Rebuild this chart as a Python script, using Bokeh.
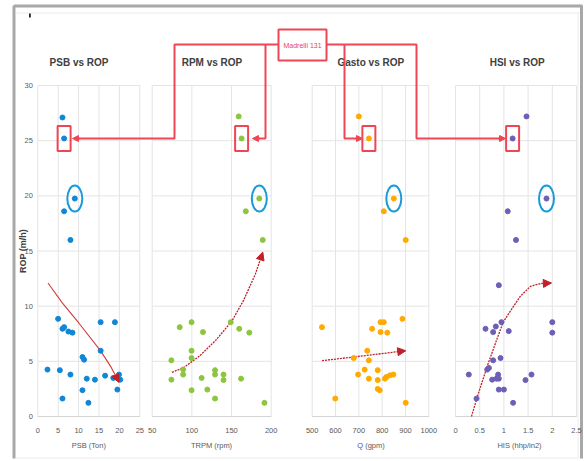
from bokeh.plotting import figure
from bokeh.models import Range1d, Arrow, NormalHead
from bokeh.core.properties import value
from bokeh.embed import file_html
from bokeh.resources import INLINE

# ---------------- data ----------------
rop_ticks = [0, 5, 10, 15, 20, 25, 30]

psb = [6.05, 6.45, 9.07, 6.45, 8.0, 4.98, 6.05, 6.45, 7.5, 8.5, 15.4, 18.9, 15.4, 10.95,
       11.35, 2.37, 5.4, 8.0, 12.0, 14.0, 16.5, 18.5, 19.9, 20.2, 10.95, 19.5, 6.05, 12.4]
psb_rop = [27.1, 25.2, 19.75, 18.6, 16.0, 8.85, 7.95, 8.1, 7.7, 7.6, 8.55, 8.55, 5.96, 5.39,
           5.15, 4.25, 4.2, 3.8, 3.43, 3.34, 3.7, 3.5, 3.8, 3.34, 2.38, 2.44, 1.63, 1.24]
psb_ticks = [0, 5, 10, 15, 20, 25]
psb_trend_x = [2.5, 6.0, 10.0, 15.4, 18.0, 19.9]
psb_trend_y = [12.1, 10.3, 8.5, 5.95, 4.45, 3.1]

rpm = [159, 162.7, 185, 168, 189.4, 74.2, 74.2, 84.7, 89, 89, 99.6, 99.6, 99.6, 99.6, 112.3,
       114, 119.5, 129.2, 129.2, 129.2, 139.9, 139.9, 149, 159.7, 162, 172.4, 191.5]
rpm_rop = [27.2, 25.2, 19.75, 18.6, 16.0, 5.09, 3.34, 8.1, 4.25, 3.8, 8.55, 5.96, 5.3, 2.38, 3.5,
           7.65, 2.44, 4.2, 3.8, 1.63, 3.8, 3.3, 8.55, 7.95, 3.43, 7.6, 1.24]
rpm_ticks = [50, 100, 150, 200]
rpm_trend_x = [75, 90, 110, 130, 150, 165, 180, 189.4]
rpm_trend_y = [4.0, 4.45, 5.5, 6.9, 8.6, 10.5, 12.9, 14.9]

q = [700, 743, 850, 807, 901, 542, 599, 678, 697, 725, 736, 743, 743, 757, 781, 781, 781, 789,
     793, 793, 807, 812, 818, 822, 833, 848, 887, 901]
q_rop = [27.2, 25.2, 19.75, 18.6, 16.0, 8.1, 1.63, 5.3, 3.8, 4.25, 5.96, 5.09, 3.43, 7.95, 4.2,
         3.3, 2.5, 2.38, 8.55, 7.65, 8.55, 3.43, 3.58, 7.6, 3.73, 3.8, 8.85, 1.24]
q_ticks = [500, 600, 700, 800, 900, 1000]
q_trend_x = [542, 720, 901]
q_trend_y = [5.06, 5.5, 5.96]

hsi = [1.467, 1.18, 1.88, 1.08, 1.25, 0.895, 0.275, 0.434, 0.62, 0.655, 0.69, 0.758, 0.778,
       0.778, 0.833, 0.847, 0.88, 0.895, 0.895, 0.93, 0.95, 1.0, 1.10, 1.19, 1.446, 1.57, 2.0, 2.0]
hsi_rop = [27.2, 25.2, 19.75, 18.6, 16.0, 11.9, 3.8, 1.63, 7.95, 4.25, 4.4, 3.34, 5.09, 7.65,
           8.16, 3.43, 3.8, 3.43, 2.44, 5.3, 8.55, 2.44, 7.74, 1.24, 3.3, 3.8, 8.55, 7.6]
hsi_ticks = [0, 0.5, 1, 1.5, 2, 2.5]
hsi_tick_labels = ["0", "0.5", "1", "1.5", "2", "2.5"]
hsi_trend_x = [0.33, 0.455, 0.655, 0.826, 0.985, 1.17, 1.34, 1.55, 1.76, 1.98]
hsi_trend_y = [0.0, 1.84, 4.55, 6.65, 8.55, 9.8, 10.9, 11.8, 12.05, 12.1]

titles = ["PSB vs ROP", "RPM vs ROP", "Gasto vs ROP", "HSI vs ROP"]
x_titles = ["PSB (Ton)", "TRPM (rpm)", "Q (gpm)", "HIS (hhp/in2)"]
y_title = "ROP (m/h)"
well_label = "Madrelli 131"
BOX_IDX = 1      # point framed by the red square
RING_IDX = 2     # point circled in blue

# ---------------- layout / style ----------------
W, H = 586, 461
OFF = 0
FONT = "Liberation Sans"
BLUE, GREEN, ORANGE, PURPLE = "#0f86d6", "#8cc63f", "#ffaa00", "#6c5fb5"
TREND = "#c0202a"
CONN = "#ee4654"
RING = "#1b9ad9"
GRID = "#e4e4e4"
TICK_COLOR = "#595959"

Y0_PX, Y30_PX = 416, 85
ys = (Y0_PX - Y30_PX) / 30.0
y_start = -(OFF + H - Y0_PX) / ys
y_end = 30 + (Y30_PX - OFF) / ys

p = figure(width=W, height=H, output_backend="svg", toolbar_location=None,
           x_range=Range1d(OFF, OFF + W), y_range=Range1d(y_start, y_end),
           min_border=0, x_axis_type=None, y_axis_type=None)
p.outline_line_color = None
p.background_fill_color = "white"
p.border_fill_color = "white"
p.extra_y_ranges = {"ly": Range1d(OFF + H, OFF)}

panels = [
    dict(name="p1", L=37.3, R=139.3, ticks=psb_ticks, labels=[str(t) for t in psb_ticks],
         x=psb, y=psb_rop, color=BLUE, tx=psb_trend_x, ty=psb_trend_y, tc=78.5, ac=88.3,
         tdash="solid", tw=1.1, tcol="#d23a3a"),
    dict(name="p2", L=151.7, R=270.7, ticks=rpm_ticks, labels=[str(t) for t in rpm_ticks],
         x=rpm, y=rpm_rop, color=GREEN, tx=rpm_trend_x, ty=rpm_trend_y, tc=211.5, ac=211,
         tdash="2 1", tw=1.3, tcol=TREND),
    dict(name="p3", L=311.7, R=428.3, ticks=q_ticks, labels=[str(t) for t in q_ticks],
         x=q, y=q_rop, color=ORANGE, tx=q_trend_x, ty=q_trend_y, tc=370.3, ac=370.5,
         tdash="2 1", tw=1.3, tcol=TREND),
    dict(name="p4", L=455.0, R=576.0, ticks=hsi_ticks, labels=hsi_tick_labels,
         x=hsi, y=hsi_rop, color=PURPLE, tx=hsi_trend_x, ty=hsi_trend_y, tc=516.7, ac=519,
         tdash="2 1", tw=1.3, tcol=TREND),
]

extra = {}
for pn in panels:
    lo, hi = pn["ticks"][0], pn["ticks"][-1]
    s = (hi - lo) / (pn["R"] - pn["L"])
    extra[pn["name"]] = Range1d(lo - (pn["L"] - OFF) * s, lo + (OFF + W - pn["L"]) * s)
p.extra_x_ranges = extra

# frame decorations (page pixel coordinates)
p.segment(x0=[13.5, 13.5, 581], y0=[5, 5.5, 5], x1=[13.5, 582, 581], y1=[458, 5.5, 458],
          line_color="#a8a8a8", line_width=3, y_range_name="ly")
p.segment(x0=[15, 15, 577.5], y0=[12.5, 457.5, 12], x1=[579, 579, 577.5], y1=[12.5, 457.5, 458],
          line_color="#ececec", line_width=1, y_range_name="ly")
p.quad(left=[28.5], right=[30.3], top=[13], bottom=[17], fill_color="#222222",
       line_color=None, y_range_name="ly")

for k, pn in enumerate(panels):
    rn = pn["name"]
    lo, hi = pn["ticks"][0], pn["ticks"][-1]
    # grid
    p.segment(x0=[lo] * len(rop_ticks), x1=[hi] * len(rop_ticks), y0=rop_ticks, y1=rop_ticks,
              line_color=GRID, line_width=1, x_range_name=rn)
    p.segment(x0=pn["ticks"], x1=pn["ticks"], y0=[0] * len(pn["ticks"]),
              y1=[30] * len(pn["ticks"]), line_color=GRID, line_width=1, x_range_name=rn)
    p.segment(x0=[lo], x1=[hi], y0=[0], y1=[0], line_color="#d4d4d4", line_width=1,
              x_range_name=rn)
    # tick labels
    p.text(x=pn["ticks"], y=[0] * len(pn["ticks"]), text=pn["labels"], x_range_name=rn,
           text_font=value(FONT), text_font_size=value("7.5px"), text_color=TICK_COLOR,
           text_align="center", text_baseline="middle", y_offset=14)
    if k == 0:
        p.text(x=[lo] * len(rop_ticks), y=rop_ticks, text=[str(t) for t in rop_ticks],
               x_range_name=rn, text_font=value(FONT), text_font_size=value("7.5px"),
               text_color=TICK_COLOR, text_align="right", text_baseline="middle",
               x_offset=-5)
        p.text(x=[lo], y=[15], text=[y_title], x_range_name=rn, angle=1.5708,
               text_font=value(FONT), text_font_size=value("9px"),
               text_font_style="bold", text_color="#404040", text_align="center",
               text_baseline="middle", x_offset=-15)
    # titles
    p.text(x=[pn["tc"]], y=[62], text=[titles[k]], y_range_name="ly",
           text_font=value(FONT), text_font_size=value("10px"), text_color="#404040",
           text_font_style="bold", text_align="center", text_baseline="middle")
    p.text(x=[pn["ac"]], y=[445], text=[x_titles[k]], y_range_name="ly",
           text_font=value(FONT), text_font_size=value("7.5px"), text_color=TICK_COLOR,
           text_align="center", text_baseline="middle")
    # trend line
    p.line(pn["tx"], pn["ty"], line_color=pn["tcol"], line_width=pn["tw"],
           line_dash=pn["tdash"], x_range_name=rn)
    p.add_layout(Arrow(end=NormalHead(size=8, fill_color=TREND, line_color=TREND),
                       x_start=pn["tx"][-2], y_start=pn["ty"][-2],
                       x_end=pn["tx"][-1], y_end=pn["ty"][-1],
                       line_alpha=0, x_range_name=rn))
    # points
    p.scatter(pn["x"], pn["y"], marker="circle", size=5, fill_color=pn["color"],
              line_color=pn["color"], x_range_name=rn)
    # highlights
    p.rect(x=[pn["x"][BOX_IDX]], y=[pn["y"][BOX_IDX]], width=13, height=25,
           width_units="screen", height_units="screen", fill_color=None,
           line_color=CONN, line_width=2, x_range_name=rn)
    p.ellipse(x=[pn["x"][RING_IDX]], y=[pn["y"][RING_IDX]], width=15, height=26,
              width_units="screen", height_units="screen", fill_color=None,
              line_color=RING, line_width=2, x_range_name=rn)

# well label box and connectors (page pixel coordinates)
p.quad(left=[278], right=[326], top=[29], bottom=[60], fill_color="white",
       line_color=CONN, line_width=2, y_range_name="ly")
p.text(x=[302], y=[45], text=[well_label], y_range_name="ly", text_font=value(FONT),
       text_font_size=value("7px"), text_color=CONN, text_align="center",
       text_baseline="middle")
paths_x = [[278, 174, 174, 75], [265, 265, 255], [326, 416, 416, 502], [344, 344, 359]]
paths_y = [[44, 44, 138, 138], [44, 138, 138], [44, 44, 138, 138], [44, 138, 138]]
p.multi_line(paths_x, paths_y, line_color=CONN, line_width=2, y_range_name="ly")
for px, py in zip(paths_x, paths_y):
    d = 1 if px[-1] > px[-2] else -1
    p.add_layout(Arrow(end=NormalHead(size=6, fill_color=CONN, line_color=CONN),
                       x_start=px[-1] - 4 * d, y_start=py[-1], x_end=px[-1] + 3 * d,
                       y_end=py[-1], line_color=CONN, line_width=2, y_range_name="ly"))

open("out.html", "w").write(file_html(p, INLINE))
